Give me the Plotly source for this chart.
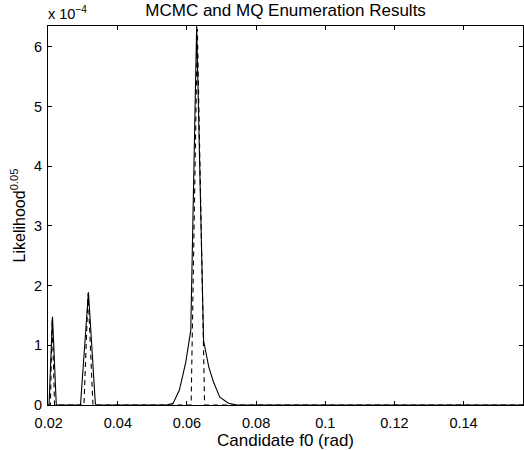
import plotly.graph_objects as go

# Likelihood^0.05 values, in units of 1e-4
SCALE_LABEL = "x 10<sup>−4</sup>"

mcmc_f0 = [0.0198, 0.0201, 0.0211, 0.0222, 0.0292, 0.0315, 0.0335, 0.0337,
           0.0541, 0.0560, 0.0578, 0.0596, 0.0611, 0.0628, 0.0648, 0.0663,
           0.0677, 0.0695, 0.0720, 0.0745, 0.1572]
mcmc_lik = [0.0, 0.0, 1.48, 0.0, 0.0, 1.89, 0.02, 0.0,
            0.0, 0.03, 0.25, 0.70, 1.25, 6.35, 1.08, 0.64,
            0.38, 0.13, 0.03, 0.0, 0.0]

mq_f0 = [0.0198, 0.0205, 0.0210, 0.0217, 0.0302, 0.0314, 0.0328,
         0.0612, 0.0630, 0.0651, 0.1572]
mq_lik = [0.0, 0.0, 1.45, 0.0, 0.0, 1.87, 0.0,
          0.0, 6.30, 0.0, 0.0]

x_ticks = [0.02, 0.04, 0.06, 0.08, 0.1, 0.12, 0.14]
x_ticktext = ["0.02", "0.04", "0.06", "0.08", "0.1", "0.12", "0.14"]
y_ticks = [0, 1, 2, 3, 4, 5, 6]

FONT = "Liberation Sans, Arial, Helvetica, sans-serif"
TICK_FONT = dict(family=FONT, size=14.5, color="black")
LABEL_FONT = dict(family=FONT, size=17, color="black")

fig = go.Figure()
fig.add_trace(go.Scatter(
    x=mcmc_f0, y=mcmc_lik, mode="lines", name="MCMC",
    line=dict(color="black", width=1.1),
))
fig.add_trace(go.Scatter(
    x=mq_f0, y=mq_lik, mode="lines", name="MQ enumeration",
    line=dict(color="black", width=1.1, dash="5px,4px"),
))

axis_common = dict(
    showgrid=False, zeroline=False, showline=True, linecolor="black",
    linewidth=1, mirror="ticks", ticks="inside", ticklen=4,
    tickcolor="black", tickwidth=1, tickfont=TICK_FONT,
)

fig.update_layout(
    width=524, height=450,
    margin=dict(l=48, r=1, t=26, b=45),
    plot_bgcolor="white", paper_bgcolor="white",
    showlegend=False,
    font=dict(family=FONT, color="black"),
    title=dict(text="MCMC and MQ Enumeration Results", x=0.545, xanchor="center",
               y=1 - 10 / 450, yanchor="middle", yref="container",
               font=LABEL_FONT),
    xaxis=dict(range=[0.0198, 0.1572], tickvals=x_ticks, ticktext=x_ticktext,
               ticklabelstandoff=5,
               title=dict(text="Candidate f0 (rad)", standoff=0, font=LABEL_FONT),
               **axis_common),
    yaxis=dict(range=[0, 6.35], tickvals=y_ticks, ticklabelstandoff=2,
               title=dict(text="Likelihood<sup>0.05</sup>", standoff=4,
                          font=dict(family=FONT, size=16, color="black")),
               **axis_common),
    annotations=[dict(
        text=SCALE_LABEL, xref="paper", yref="paper", x=0, y=1,
        xanchor="left", yanchor="bottom", yshift=2, xshift=-2, showarrow=False,
        font=dict(family=FONT, size=14.5, color="black"),
    )],
)

fig.write_html("out.html")
